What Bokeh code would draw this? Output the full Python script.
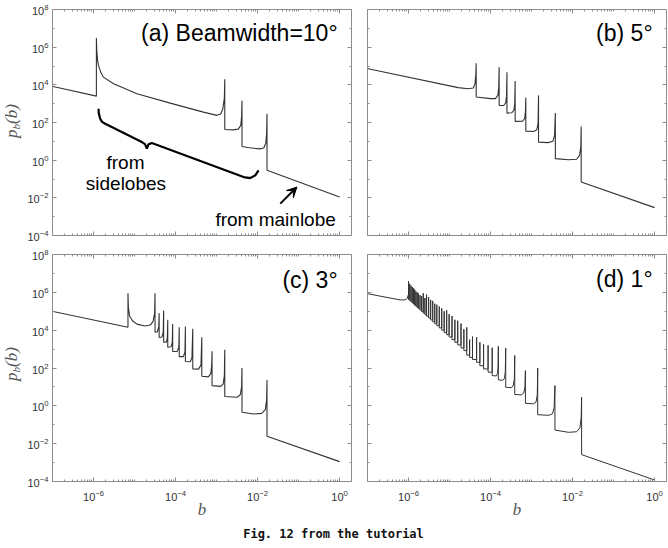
import math
from bokeh.plotting import figure
from bokeh.models import (FixedTicker, LogAxis, Label, Arrow, VeeHead, Div, Range1d)
from bokeh.layouts import column, row
from bokeh.embed import file_html
from bokeh.resources import INLINE

# ---------------- data (log10 values) ----------------
# (a) Beamwidth = 10 deg
a_logb = [-7.1, -5.93, -5.93, -5.92, -5.90, -5.88, -5.82, -5.76, -5.51, -4.94, -4.13, -3.32,
          -2.99, -2.90, -2.85, -2.81, -2.80, -2.80, -2.60, -2.47, -2.41, -2.39, -2.38, -2.38,
          -2.20, -1.95, -1.85, -1.80, -1.78, -1.77, -1.77, 0.0]
a_logp = [3.97, 3.40, 6.48, 5.82, 5.30, 5.03, 4.65, 4.41, 4.06, 3.53, 3.03, 2.55,
          2.38, 2.45, 2.70, 3.30, 4.29, 1.63, 1.61, 1.65, 1.85, 2.30, 3.17, 0.73,
          0.66, 0.60, 0.65, 0.90, 1.40, 2.47, -0.54, -1.96]

# (b) 5 deg
b_logb = [-7.1, -4.79, -4.55, -4.42, -4.38, -4.36, -4.35, -4.35, -4.00, -3.88, -3.82, -3.80,
          -3.79, -3.79, -3.68, -3.63, -3.61, -3.60, -3.60, -3.48, -3.43, -3.41, -3.40, -3.40,
          -3.22, -3.17, -3.15, -3.14, -3.14, -2.95, -2.87, -2.84, -2.83, -2.83, -2.60, -2.48,
          -2.44, -2.42, -2.42, -2.10, -1.90, -1.83, -1.80, -1.79, -1.79, 0.0]
b_logp = [4.91, 3.85, 3.79, 3.83, 4.05, 4.50, 5.15, 3.35, 3.27, 3.27, 3.45, 3.90,
          4.94, 2.91, 2.90, 3.05, 3.40, 4.67, 2.50, 2.52, 2.65, 3.00, 4.20, 2.06,
          2.07, 2.20, 2.55, 3.32, 1.54, 1.52, 1.62, 2.00, 3.44, 0.96, 0.93, 1.00,
          1.30, 2.50, 0.08, 0.02, 0.05, 0.25, 0.70, 1.79, -1.16, -2.52]

# (c) 3 deg
c_logb = [-7.1, -5.16, -5.16, -5.15, -5.12, -5.05, -4.94, -4.75, -4.62, -4.55, -4.51, -4.50,
          -4.50, -4.44, -4.41, -4.40, -4.40, -4.33, -4.30, -4.29, -4.29, -4.22, -4.20, -4.19,
          -4.19, -4.11, -4.08, -4.07, -4.07, -3.96, -3.92, -3.91, -3.91, -3.81, -3.77, -3.76,
          -3.76, -3.64, -3.60, -3.58, -3.58, -3.44, -3.38, -3.36, -3.36, -3.20, -3.14, -3.12,
          -3.11, -3.11, -2.90, -2.84, -2.81, -2.80, -2.80, -2.50, -2.42, -2.39, -2.38, -2.38,
          -2.10, -1.90, -1.81, -1.78, -1.77, -1.77, 0.0]
c_logp = [5.04, 4.15, 5.95, 5.20, 4.75, 4.50, 4.32, 4.22, 4.27, 4.45, 4.90, 5.95,
          3.89, 3.92, 4.20, 4.90, 3.62, 3.64, 3.90, 5.04, 3.36, 3.38, 3.60, 4.55,
          3.10, 3.12, 3.35, 4.33, 2.87, 2.88, 3.10, 4.15, 2.60, 2.60, 2.85, 4.19,
          2.34, 2.33, 2.55, 4.07, 1.95, 1.94, 2.15, 3.62, 1.56, 1.53, 1.70, 2.10,
          2.88, 1.07, 1.03, 1.15, 1.60, 2.96, 0.49, 0.45, 0.60, 1.00, 2.00, -0.34,
          -0.43, -0.40, -0.20, 0.30, 1.37, -1.61, -2.95]

# (d) 1 deg : lead-in, dense cluster of sidelobe spikes, tail
d_lead_logb = [-7.1, -6.50, -6.20, -6.08, -6.03, -6.01]
d_lead_logp = [5.97, 5.72, 5.60, 5.60, 5.68, 5.85]
d_spike_logb = [-6.00, -5.97, -5.94, -5.91, -5.88, -5.85, -5.82, -5.79, -5.76, -5.72,
                -5.68, -5.64, -5.60, -5.56, -5.51, -5.46, -5.41, -5.36, -5.31, -5.25,
                -5.19, -5.13, -5.07, -5.01, -4.94, -4.87, -4.80, -4.72, -4.65, -4.58,
                -4.51, -4.44, -4.34, -4.26, -4.17, -4.06, -3.96]
d_spike_peak = [6.59, 6.45, 6.35, 6.28, 6.22, 6.15, 6.05, 6.00, 5.95, 5.85,
                5.80, 5.95, 5.70, 5.88, 5.75, 5.60, 5.55, 5.40, 5.35, 5.25,
                5.15, 5.00, 5.05, 4.85, 4.75, 4.55, 4.50, 4.35, 4.05, 4.15,
                3.50, 3.66, 3.62, 3.36, 3.25, 3.20, 3.07]
d_spike_floor = [5.62, 5.56, 5.50, 5.44, 5.38, 5.32, 5.26, 5.20, 5.14, 5.06,
                 4.98, 4.90, 4.82, 4.74, 4.64, 4.54, 4.44, 4.34, 4.24, 4.12,
                 4.00, 3.88, 3.76, 3.64, 3.50, 3.36, 3.22, 3.06, 2.92, 2.68,
                 2.56, 2.45, 2.30, 2.12, 1.95, 1.78, 1.60]
d_tail_logb = [-3.86, -3.83, -3.815, -3.81, -3.81, -3.70, -3.66, -3.64, -3.63, -3.63,
               -3.50, -3.45, -3.42, -3.41, -3.41, -3.25, -3.19, -3.16, -3.15, -3.15,
               -2.95, -2.89, -2.86, -2.85, -2.85, -2.58, -2.49, -2.45, -2.43, -2.43,
               -2.10, -1.90, -1.82, -1.79, -1.78, -1.78, 0.0]
d_tail_logp = [1.58, 1.70, 2.10, 3.15, 1.37, 1.35, 1.45, 1.80, 3.05, 0.98,
               0.96, 1.05, 1.40, 2.66, 0.60, 0.58, 0.68, 1.00, 1.86, 0.13,
               0.11, 0.20, 0.60, 2.00, -0.47, -0.50, -0.42, -0.10, 1.07, -1.28,
               -1.40, -1.37, -1.15, -0.60, 0.45, -2.58, -3.92]

# annotation shapes in panel (a)
brace_logb = [-5.878, -5.871, -5.837, -5.793, -5.715, -4.822, -4.744, -4.700, -4.659,
              -4.578, -2.341, -2.178, -2.056, -1.976]
brace_logp = [2.732, 2.483, 2.202, 2.032, 1.937, 0.960, 0.849, 0.610, 0.838,
              0.907, -0.897, -0.950, -0.806, -0.541]
arrow_logb = [-1.446, -1.041]
arrow_logp = [-2.308, -1.427]

titles = ["(a) Beamwidth=10\u00b0", "(b) 5\u00b0", "(c) 3\u00b0", "(d) 1\u00b0"]
x_major = [1e-6, 1e-4, 1e-2, 1e0]
y_major = [1e-4, 1e-2, 1e0, 1e2, 1e4, 1e6, 1e8]
y_minor = [1e-3, 1e-1, 1e1, 1e3, 1e5, 1e7]
x_minor = [k * 10.0 ** e for e in range(-7, 1) for k in range(1, 10)]

# ---------------- helpers ----------------
FRAME = "#8c8c8c"
LINE = "#333333"
LABEL_GRAY = "#555555"
SANS = "Liberation Sans"
SERIF = "Liberation Serif"

TOP_H = 9 + 226 + 8      # top row height
BOT_H = 11 + 227 + 46    # bottom row height


def lin(vals):
    return [10.0 ** v for v in vals]


def style_axis(ax, labels, standoff=4):
    ax.axis_line_color = FRAME
    ax.major_tick_line_color = FRAME
    ax.minor_tick_line_color = FRAME
    ax.major_tick_in = 4
    ax.major_tick_out = 0
    ax.minor_tick_in = 2
    ax.minor_tick_out = 0
    if labels:
        ax.major_label_text_font = SANS
        ax.major_label_text_font_size = "11px"
        ax.major_label_text_color = "#333333"
        ax.major_label_standoff = standoff
    else:
        ax.major_label_text_font_size = "1px"
        ax.major_label_text_alpha = 0
        ax.major_label_standoff = 0


def make_fig(left_lab, bottom_lab, bl, br, bt, bb, fh):
    p = figure(x_axis_type="log", y_axis_type="log",
               x_range=Range1d(1e-7, 10 ** 0.29), y_range=Range1d(1e-4, 1e8),
               frame_width=299, frame_height=fh,
               min_border_left=bl, min_border_right=br, min_border_top=bt, min_border_bottom=bb,
               output_backend="svg", toolbar_location=None,
               background_fill_color="white", border_fill_color="white",
               outline_line_color=None)
    p.grid.visible = False
    bottom_ax = p.xaxis[0]
    left_ax = p.yaxis[0]
    bottom_ax.ticker = FixedTicker(ticks=x_major, minor_ticks=x_minor)
    left_ax.ticker = FixedTicker(ticks=y_major, minor_ticks=y_minor)
    style_axis(bottom_ax, bottom_lab, standoff=8)
    style_axis(left_ax, left_lab, standoff=4)
    top_ax = LogAxis(ticker=FixedTicker(ticks=x_major, minor_ticks=x_minor))
    style_axis(top_ax, False)
    p.add_layout(top_ax, "above")
    right_ax = LogAxis(ticker=FixedTicker(ticks=y_major, minor_ticks=y_minor))
    style_axis(right_ax, False)
    p.add_layout(right_ax, "right")
    if bottom_lab:
        bottom_ax.axis_label = "b"
        bottom_ax.axis_label_text_font = SERIF
        bottom_ax.axis_label_text_font_style = "italic"
        bottom_ax.axis_label_text_font_size = "17px"
        bottom_ax.axis_label_text_color = LABEL_GRAY
        bottom_ax.axis_label_standoff = -4
    return p


YLABEL_HTML = (
    '<div style="width:44px;height:20px;line-height:20px;white-space:nowrap;'
    'text-align:center;font-family:\'Liberation Serif\',serif;font-size:17px;'
    'font-style:italic;color:%s;transform-origin:22px 10px;'
    'transform:translate(-10.5px,111px) rotate(-90deg);">'
    'p<sub style="font-size:11px;vertical-align:-3px;line-height:0">b</sub>(b)</div>'
) % LABEL_GRAY


def make_ylabel(height):
    """Narrow strip holding the rotated y label p_b(b) as real HTML text."""
    return Div(text=YLABEL_HTML, width=24, height=height, margin=0)


def add_title(p, text, yoff):
    p.add_layout(Label(x=1.0, y=1e8, x_offset=-2, y_offset=yoff, text=text, text_align="right",
                       text_baseline="middle", text_font=SANS, text_font_size="23px",
                       text_color="black"))


# ---------------- panels ----------------
pa = make_fig(True, False, 25, 4, 9, 8, 226)
pb = make_fig(False, False, 12, 3, 9, 8, 226)
pc = make_fig(True, True, 25, 4, 11, 46, 227)
pd = make_fig(False, True, 12, 3, 11, 46, 227)

ya = make_ylabel(TOP_H)
yc = make_ylabel(BOT_H)

pa.line(lin(a_logb), lin(a_logp), line_color=LINE, line_width=1.1)
pb.line(lin(b_logb), lin(b_logp), line_color=LINE, line_width=1.1)
pc.line(lin(c_logb), lin(c_logp), line_color=LINE, line_width=1.1)

d_b = list(d_lead_logb)
d_p = list(d_lead_logp)
prev = d_lead_logp[-1]
for sb, sp, sf in zip(d_spike_logb, d_spike_peak, d_spike_floor):
    d_b += [sb, sb, sb]
    d_p += [prev, sp, sf]
    prev = sf
d_b += d_tail_logb
d_p += d_tail_logp
pd.line(lin(d_b), lin(d_p), line_color=LINE, line_width=1.0)

add_title(pa, titles[0], -23)
add_title(pb, titles[1], -23)
add_title(pc, titles[2], -25)
add_title(pd, titles[3], -24)

# annotations of panel (a)
pa.line(lin(brace_logb), lin(brace_logp), line_color="black", line_width=2.2)
pa.add_layout(Arrow(end=VeeHead(size=10, line_color="black", fill_color="black", line_width=1),
                    x_start=10 ** arrow_logb[0], y_start=10 ** arrow_logp[0],
                    x_end=10 ** arrow_logb[1], y_end=10 ** arrow_logp[1],
                    line_color="black", line_width=2))
ann = dict(text_font=SANS, text_font_size="19px", text_color="black",
           text_align="center", text_baseline="middle")
pa.add_layout(Label(x=10 ** -5.22, y=10 ** -0.12, text="from", **ann))
pa.add_layout(Label(x=10 ** -5.21, y=10 ** -1.23, text="sidelobes", **ann))
pa.add_layout(Label(x=10 ** -1.56, y=10 ** -3.14, text="from mainlobe", **ann))

caption = Div(text="Fig. 12 from the tutorial", width=667, height=14, margin=0,
              styles={"text-align": "center", "font-family": "DejaVu Sans Mono",
                      "font-weight": "bold", "font-size": "12px", "line-height": "14px",
                      "color": "#111111"})

layout = column(row(ya, pa, pb), row(yc, pc, pd), caption)

open("out.html", "w").write(file_html(layout, INLINE))
